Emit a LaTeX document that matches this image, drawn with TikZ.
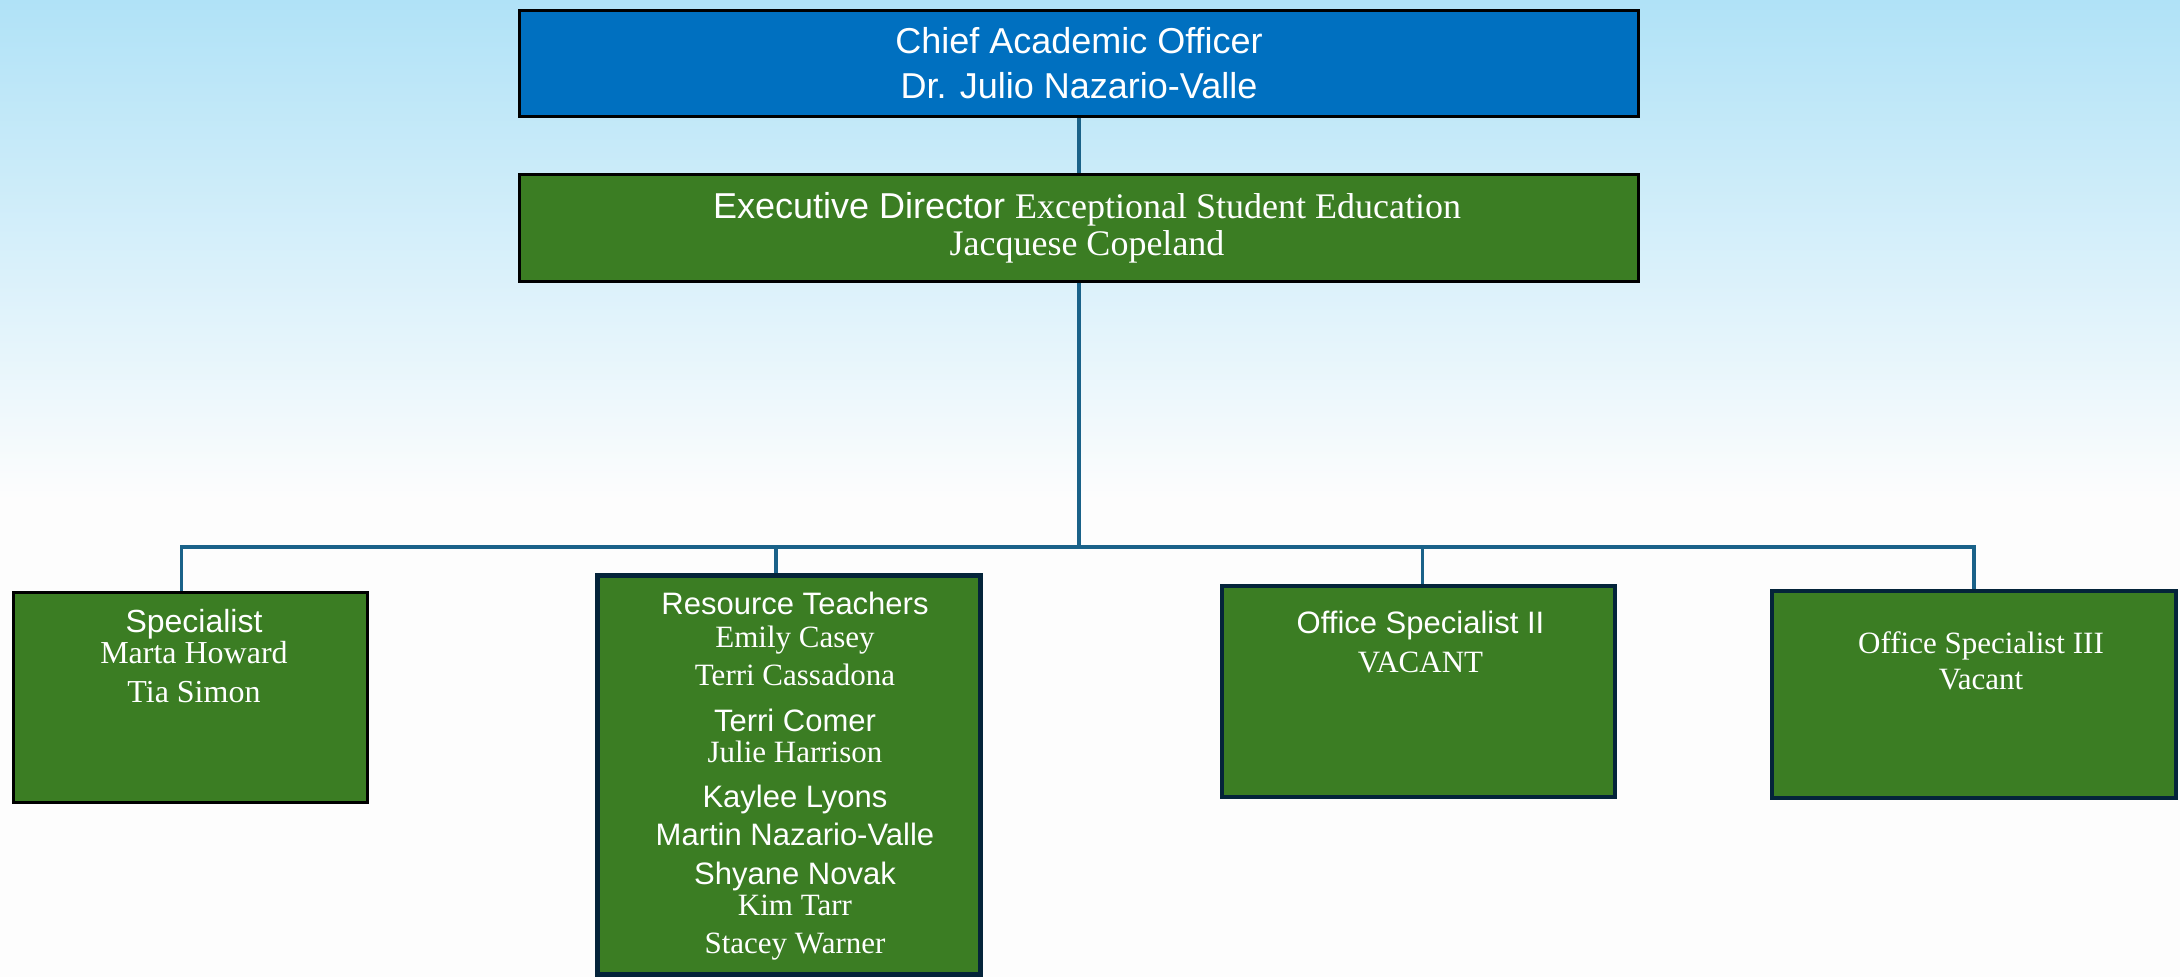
\documentclass[tikz,border=0pt]{standalone}
\usepackage{fontspec}
\setmainfont{Liberation Serif}
\setsansfont{Liberation Sans}
\usetikzlibrary{positioning}
\definecolor{caoblue}{RGB}{0,112,192}
\definecolor{boxgreen}{RGB}{59,125,35}
\definecolor{boxnavy}{RGB}{4,36,58}
\definecolor{linkblue}{RGB}{26,98,137}
\definecolor{skyblue}{RGB}{176,226,247}
\definecolor{paper}{RGB}{253,253,253}
\begin{document}
\begin{tikzpicture}[x=0.5pt,y=-0.5pt,
  box/.style={rectangle, draw=black, line width=1.5pt, inner sep=0pt},
  headbox/.style={box, fill=caoblue},
  greenbox/.style={box, fill=boxgreen},
  staffbox/.style={greenbox, draw=boxnavy, line width=2pt},
  boxtext/.style={anchor=north, inner sep=0pt, align=center, text=white},
  link/.style={draw=linkblue, line width=1.6pt}]
\useasboundingbox (0,0) rectangle (2180,977);
\shade[top color=skyblue, bottom color=paper] (0,0) rectangle (2180,500);
\fill[paper] (0,499) rectangle (2180,977);
\node [headbox, minimum width=559.5pt, minimum height=53pt] (cao) at (1079,63.5) {};
\node [greenbox, minimum width=559.5pt, minimum height=53.5pt] (ed) at (1079,228) {};
\node [greenbox, minimum width=177pt, minimum height=105pt] (spec) at (190.5,697.5) {};
\node [staffbox, line width=2.5pt, minimum width=191.5pt, minimum height=199.5pt] (rt) at (789,775) {};
\node [staffbox, minimum width=196.5pt, minimum height=105.5pt] (os2) at (1418.5,691.5) {};
\node [staffbox, minimum width=202pt, minimum height=103.5pt] (os3) at (1974,694.5) {};
\coordinate (bus) at (1079,547);
\draw [link] (cao.south) -- (ed.north);
\draw [link] (ed.south) -- (bus);
\draw [link] ([xshift=-4.5pt]spec.north) |- (bus) -| (os3.north);
\draw [link] ([xshift=-6.5pt]rt.north) |- (bus);
\draw [link] ([xshift=2pt]os2.north) |- (bus);
\node [boxtext, font=\sffamily\fontsize{18}{22.5}\selectfont] (caotext) at (1079,27) {Chief Academic Officer\\Dr. Julio Nazario-Valle};
\node [boxtext, font=\sffamily\fontsize{18}{18.5}\selectfont] (edtext) at (1087,192) {Executive Director {\rmfamily Exceptional Student Education}\\{\rmfamily Jacquese Copeland}};
\node [boxtext, font=\sffamily\fontsize{16}{15.5}\selectfont] (spectext) at (194,609) {Specialist\\{\rmfamily Marta Howard}\\[4pt]{\rmfamily Tia Simon}};
\node [boxtext, font=\sffamily\fontsize{15.5}{15.5}\selectfont] (rttext) at (795,591.5) {Resource Teachers\\[1pt]
{\rmfamily Emily Casey}\\[3.5pt]
{\rmfamily Terri Cassadona}\\[7.5pt]
Terri Comer\\
{\rmfamily Julie Harrison}\\[7pt]
Kaylee Lyons\\[3.5pt]
Martin Nazario-Valle\\[4pt]
Shyane Novak\\
{\rmfamily Kim Tarr}\\[3.5pt]
{\rmfamily Stacey Warner}};
\node [boxtext, font=\sffamily\fontsize{15.5}{15.5}\selectfont] (os2text) at (1420.5,611) {Office Specialist II\\[4pt]{\rmfamily VACANT}};
\node [boxtext, font=\rmfamily\fontsize{15.5}{15.5}\selectfont] (os3text) at (1981,631) {Office Specialist III\\[2.5pt]Vacant};
\end{tikzpicture}
\end{document}
